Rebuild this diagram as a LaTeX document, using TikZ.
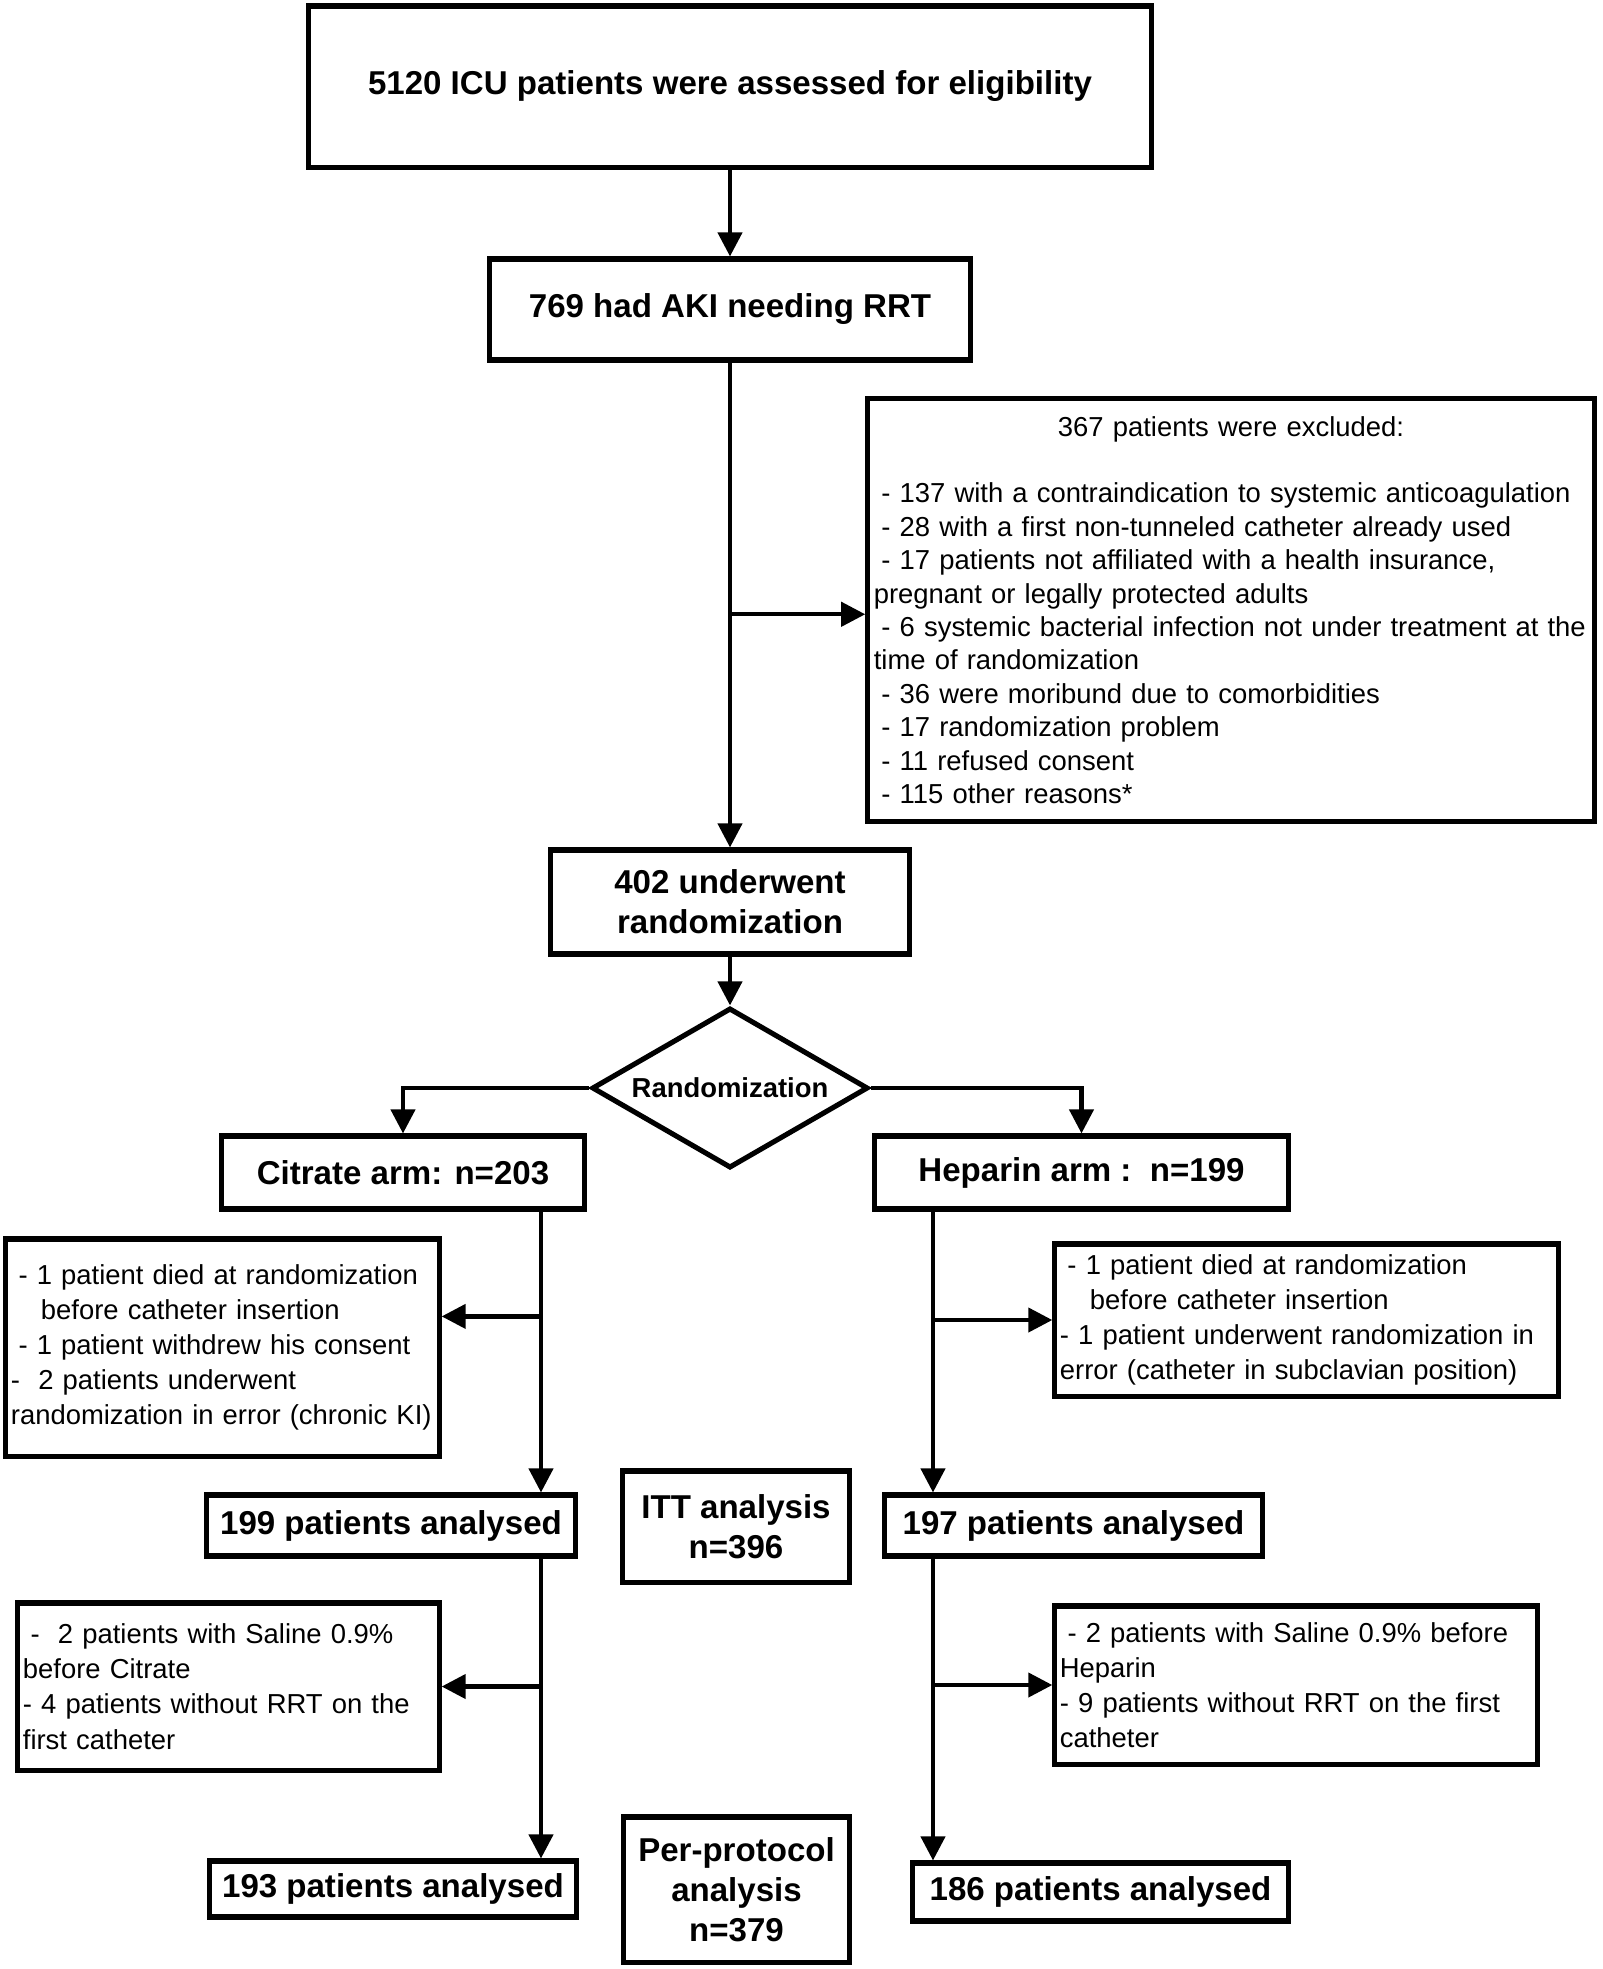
\documentclass[tikz,border=0pt]{standalone}
\usepackage{fontspec}
\setmainfont{Liberation Sans}
\usetikzlibrary{shapes.geometric,arrows.meta,calc}

\newcommand{\flowfont}{\fontsize{9.4}{11.4}\selectfont\bfseries}
\newcommand{\exclfont}{\fontsize{7.8}{9.5}\selectfont}
\newcommand{\sidefont}{\fontsize{7.8}{10}\selectfont}
\newcommand{\lsp}{\hspace*{0.278em}}

\tikzset{
  flowbox/.style={draw,line width=1.45pt,align=center,inner sep=0pt,font=\flowfont},
  exclbox/.style={draw,line width=1.45pt,align=left,inner sep=0.06cm,font=\exclfont},
  sidebox/.style={draw,line width=1.45pt,align=left,inner sep=0.05cm,font=\sidefont},
  flow/.style={line width=1.2pt,-{Triangle[length=0.24cm,width=0.24cm]}}
}

\begin{document}
\begin{tikzpicture}[x=0.01cm,y=-0.01cm]
    \useasboundingbox (0,0) rectangle (1602,1969);

    % Main column
    \node[flowbox,minimum width=8.43cm,minimum height=1.61cm] (elig) at (730,86.5) {5120 ICU patients were assessed for eligibility};
    \node[flowbox,minimum width=4.81cm,minimum height=1.01cm] (aki) at (730,309.5) {769 had AKI needing RRT};
    \node[flowbox,minimum width=3.59cm,minimum height=1.04cm] (rnd) at (730,902) {402 underwent\\randomization};
    \node[draw,diamond,line width=1.45pt,inner sep=0pt,aspect=1.7,minimum width=2.76cm,minimum height=1.6cm,
          font=\fontsize{7.8}{9}\selectfont\bfseries] (dia) at (730,1088) {Randomization};

    % Exclusions
    \node[exclbox,text width=7.14cm,minimum height=4.22cm] (excl) at (1231,610) {%
        \makebox[\linewidth]{367 patients were excluded:}\\[9.5pt]
        \lsp- 137 with a contraindication to systemic anticoagulation\\
        \lsp- 28 with a first non-tunneled catheter already used\\
        \lsp- 17 patients not affiliated with a health insurance,\\
        pregnant or legally protected adults\\
        \lsp- 6 systemic bacterial infection not under treatment at the\\
        time of randomization\\
        \lsp- 36 were moribund due to comorbidities\\
        \lsp- 17 randomization problem\\
        \lsp- 11 refused consent\\
        \lsp- 115 other reasons*};

    % Arms
    \node[flowbox,minimum width=3.62cm,minimum height=0.73cm] (cit) at (403,1172.5) {Citrate arm: n=203};
    \node[flowbox,minimum width=4.13cm,minimum height=0.73cm] (hep) at (1081.5,1172.5) {Heparin arm :\ \ n=199};

    \node[sidebox,text width=4.23cm,minimum height=2.17cm] (exL1) at (222.5,1347.5) {%
        \lsp- 1 patient died at randomization\\
        \hspace*{0.3cm}before catheter insertion\\
        \lsp- 1 patient withdrew his consent\\
        -\ \ 2 patients underwent\\
        randomization in error (chronic KI)};
    \node[sidebox,text width=4.93cm,minimum height=1.52cm] (exR1) at (1306.5,1320) {%
        \lsp- 1 patient died at randomization\\
        \hspace*{0.3cm}before catheter insertion\\
        - 1 patient underwent randomization in\\
        error (catheter in subclavian position)};

    % ITT analysis
    \node[flowbox,minimum width=3.68cm,minimum height=0.61cm] (an199) at (391,1525.5) {199 patients analysed};
    \node[flowbox,minimum width=2.26cm,minimum height=1.11cm] (itt) at (736,1526.5) {ITT analysis\\n=396};
    \node[flowbox,minimum width=3.77cm,minimum height=0.61cm] (an197) at (1073.5,1525.5) {197 patients analysed};

    \node[sidebox,text width=4.11cm,minimum height=1.67cm] (exL2) at (228.5,1686.5) {%
        \lsp-\ \ 2 patients with Saline 0.9\%\\
        before Citrate\\
        - 4 patients without RRT on the\\
        first catheter};
    \node[sidebox,text width=4.72cm,minimum height=1.58cm] (exR2) at (1296,1685) {%
        \lsp- 2 patients with Saline 0.9\% before\\
        Heparin\\
        - 9 patients without RRT on the first\\
        catheter};

    % Per-protocol analysis
    \node[flowbox,minimum width=3.66cm,minimum height=0.56cm] (an193) at (393,1889) {193 patients analysed};
    \node[flowbox,minimum width=2.25cm,minimum height=1.45cm] (pp) at (736.5,1889.5) {Per-protocol\\analysis\\n=379};
    \node[flowbox,minimum width=3.75cm,minimum height=0.58cm] (an186) at (1100.5,1892) {186 patients analysed};

    % Arrows
    \coordinate (exclin) at ($(excl.north west)!0.51!(excl.south west)$);
    \draw[flow] (elig.south) -- (aki.north);
    \draw[flow] (aki.south) -- (rnd.north);
    \draw[flow] (aki.south |- exclin) -- (exclin);
    \draw[flow] (rnd.south) -- (dia.north);
    \draw[flow] (dia.west) -| (cit.north);
    \draw[flow] (dia.east) -| (hep.north);

    \coordinate (citline) at (541,0);
    \coordinate (hepline) at (933,0);
    \coordinate (exL1in) at ($(exL1.north east)!0.36!(exL1.south east)$);

    \draw[flow] (cit.south -| citline) -- (an199.north -| citline);
    \draw[flow] (citline |- exL1in) -- (exL1in);
    \draw[flow] (an199.south -| citline) -- (an193.north -| citline);
    \draw[flow] (citline |- exL2.east) -- (exL2.east);

    \draw[flow] (hep.south -| hepline) -- (an197.north -| hepline);
    \draw[flow] (hepline |- exR1.west) -- (exR1.west);
    \draw[flow] (an197.south -| hepline) -- (an186.north -| hepline);
    \draw[flow] (hepline |- exR2.west) -- (exR2.west);
\end{tikzpicture}
\end{document}
